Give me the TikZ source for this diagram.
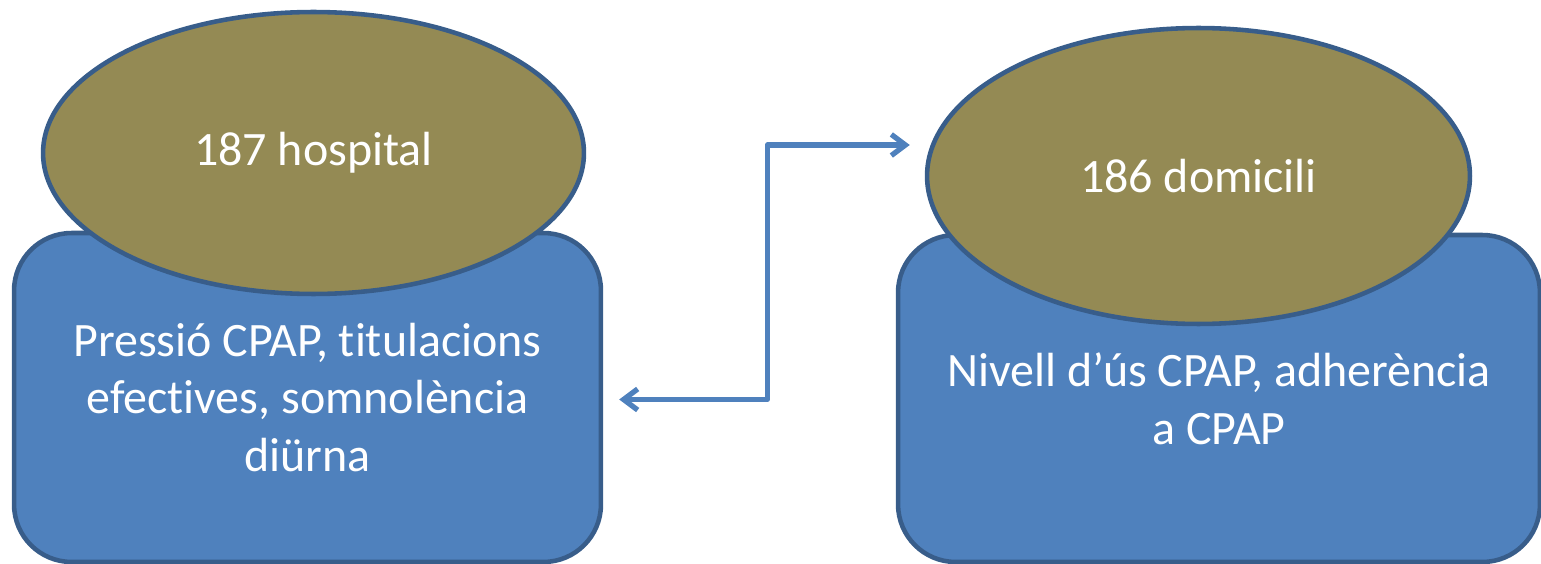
\documentclass[tikz,border=0pt]{standalone}
\usepackage{fontspec}
\setmainfont[Ligatures=NoCommon]{Carlito}
\usetikzlibrary{%
  arrows.meta,%
  shapes.geometric,% wg. ellipse
  positioning,%
  calc
}
\definecolor{boxblue}{HTML}{4F81BD}
\definecolor{edgeblue}{HTML}{385D8A}
\definecolor{olive}{HTML}{948A54}

\begin{document}
\begin{tikzpicture}
  [
  x=0.02cm, y=-0.02cm,
  >={Straight Barb[length=8pt,width=12pt]},
  infobox/.style={rectangle, rounded corners=1.15cm, draw=edgeblue, fill=boxblue,
    line width=2.6pt, text=white, align=center, inner sep=0pt,
    font=\fontsize{27.3}{33}\selectfont},
  sitenode/.style={ellipse, draw=edgeblue, fill=olive, text=white, inner sep=0pt,
    line width=2.6pt, font=\fontsize{27.3}{33}\selectfont},
  link/.style={draw=boxblue, <->, line width=3pt, line cap=round, line join=round}
  ]

  \useasboundingbox (0,0) rectangle (1541,564);

  \node[infobox, minimum width=11.74cm, minimum height=6.58cm] (lbox) at (307.5,397.5)
    {Pressió CPAP, titulacions\\efectives, somnolència\\diürna};
  \node[infobox, minimum width=12.84cm, minimum height=6.54cm] (rbox) at (1219,398.5)
    {Nivell d’ús CPAP, adherència\\a CPAP};

  \node[sitenode, minimum width=10.82cm, minimum height=5.64cm] (lsite) at (313.5,153)
    {187 hospital};
  \node[sitenode, minimum width=10.86cm, minimum height=5.92cm] (rsite) at (1198.5,176)
    {186 domicili};

  \coordinate (larr) at ($(lbox.east)+(16,2)$);
  \coordinate (rarr) at ($(rsite.west)+(-15,-31)$);
  \draw[link] (larr) -- ++(148,0) |- (rarr);
\end{tikzpicture}
\end{document}
